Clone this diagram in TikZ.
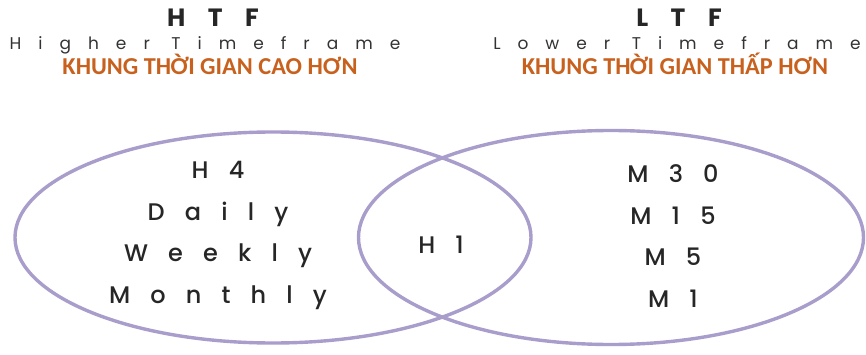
\documentclass[tikz,border=0pt]{standalone}
\usepackage{fontspec}
\setmainfont{Poppins}
\newfontfamily\titlefont[LetterSpace=90]{Poppins}
\newfontfamily\subfont[LetterSpace=100]{Poppins}
\newfontfamily\tffont[LetterSpace=84]{Poppins Medium}
\newfontfamily\vnfont{Carlito}
\usepackage{xcolor}
\usepackage{tikz}
\usetikzlibrary{shapes.geometric}

\definecolor{venn}{HTML}{A99DCB}
\definecolor{vnorange}{HTML}{C8611E}

\begin{document}
\begin{tikzpicture}[
  x=1pt, y=-1pt,
  set/.style={draw=venn, line width=3.4pt, ellipse, inner sep=0pt},
  head/.style={anchor=base, font=\titlefont\bfseries\fontsize{25}{25}\selectfont, text=black!85},
  sub/.style={anchor=base, font=\subfont\fontsize{17}{17}\selectfont, text=black!80},
  vn/.style={anchor=base, font=\vnfont\bfseries\fontsize{24.3}{24.3}\selectfont, text=vnorange},
  tf/.style={anchor=base, align=center, font=\tffont\fontsize{24}{41.5}\selectfont, text=black!85}
]
  \useasboundingbox (0,0) rectangle (866,355);

  % the two sets
  \node[set, minimum width=516pt, minimum height=211pt] at (273,237.5) (higher) {};
  \node[set, minimum width=505pt, minimum height=214pt] at (611,237.5) (lower) {};

  % headings
  \node[head] at (213,27) (htf) {HTF};
  \node[sub] at (205,50) (htfname) {Higher Timeframe};
  \node[vn] at (210,75) (htfvn) {KHUNG THỜI GIAN CAO HƠN};
  \node[head] at (679,27) (ltf) {LTF};
  \node[sub] at (677,50) (ltfname) {Lower Timeframe};
  \node[vn] at (675,75) (ltfvn) {KHUNG THỜI GIAN THẤP HƠN};

  % timeframes
  \node[tf] at (218,303) (htflist) {H4\\Daily\\Weekly\\Monthly};
  \node[tf] at (441,253) (shared) {H1};
  \node[tf] at (673,307) (ltflist) {M30\\M15\\M5\\M1};
\end{tikzpicture}
\end{document}
